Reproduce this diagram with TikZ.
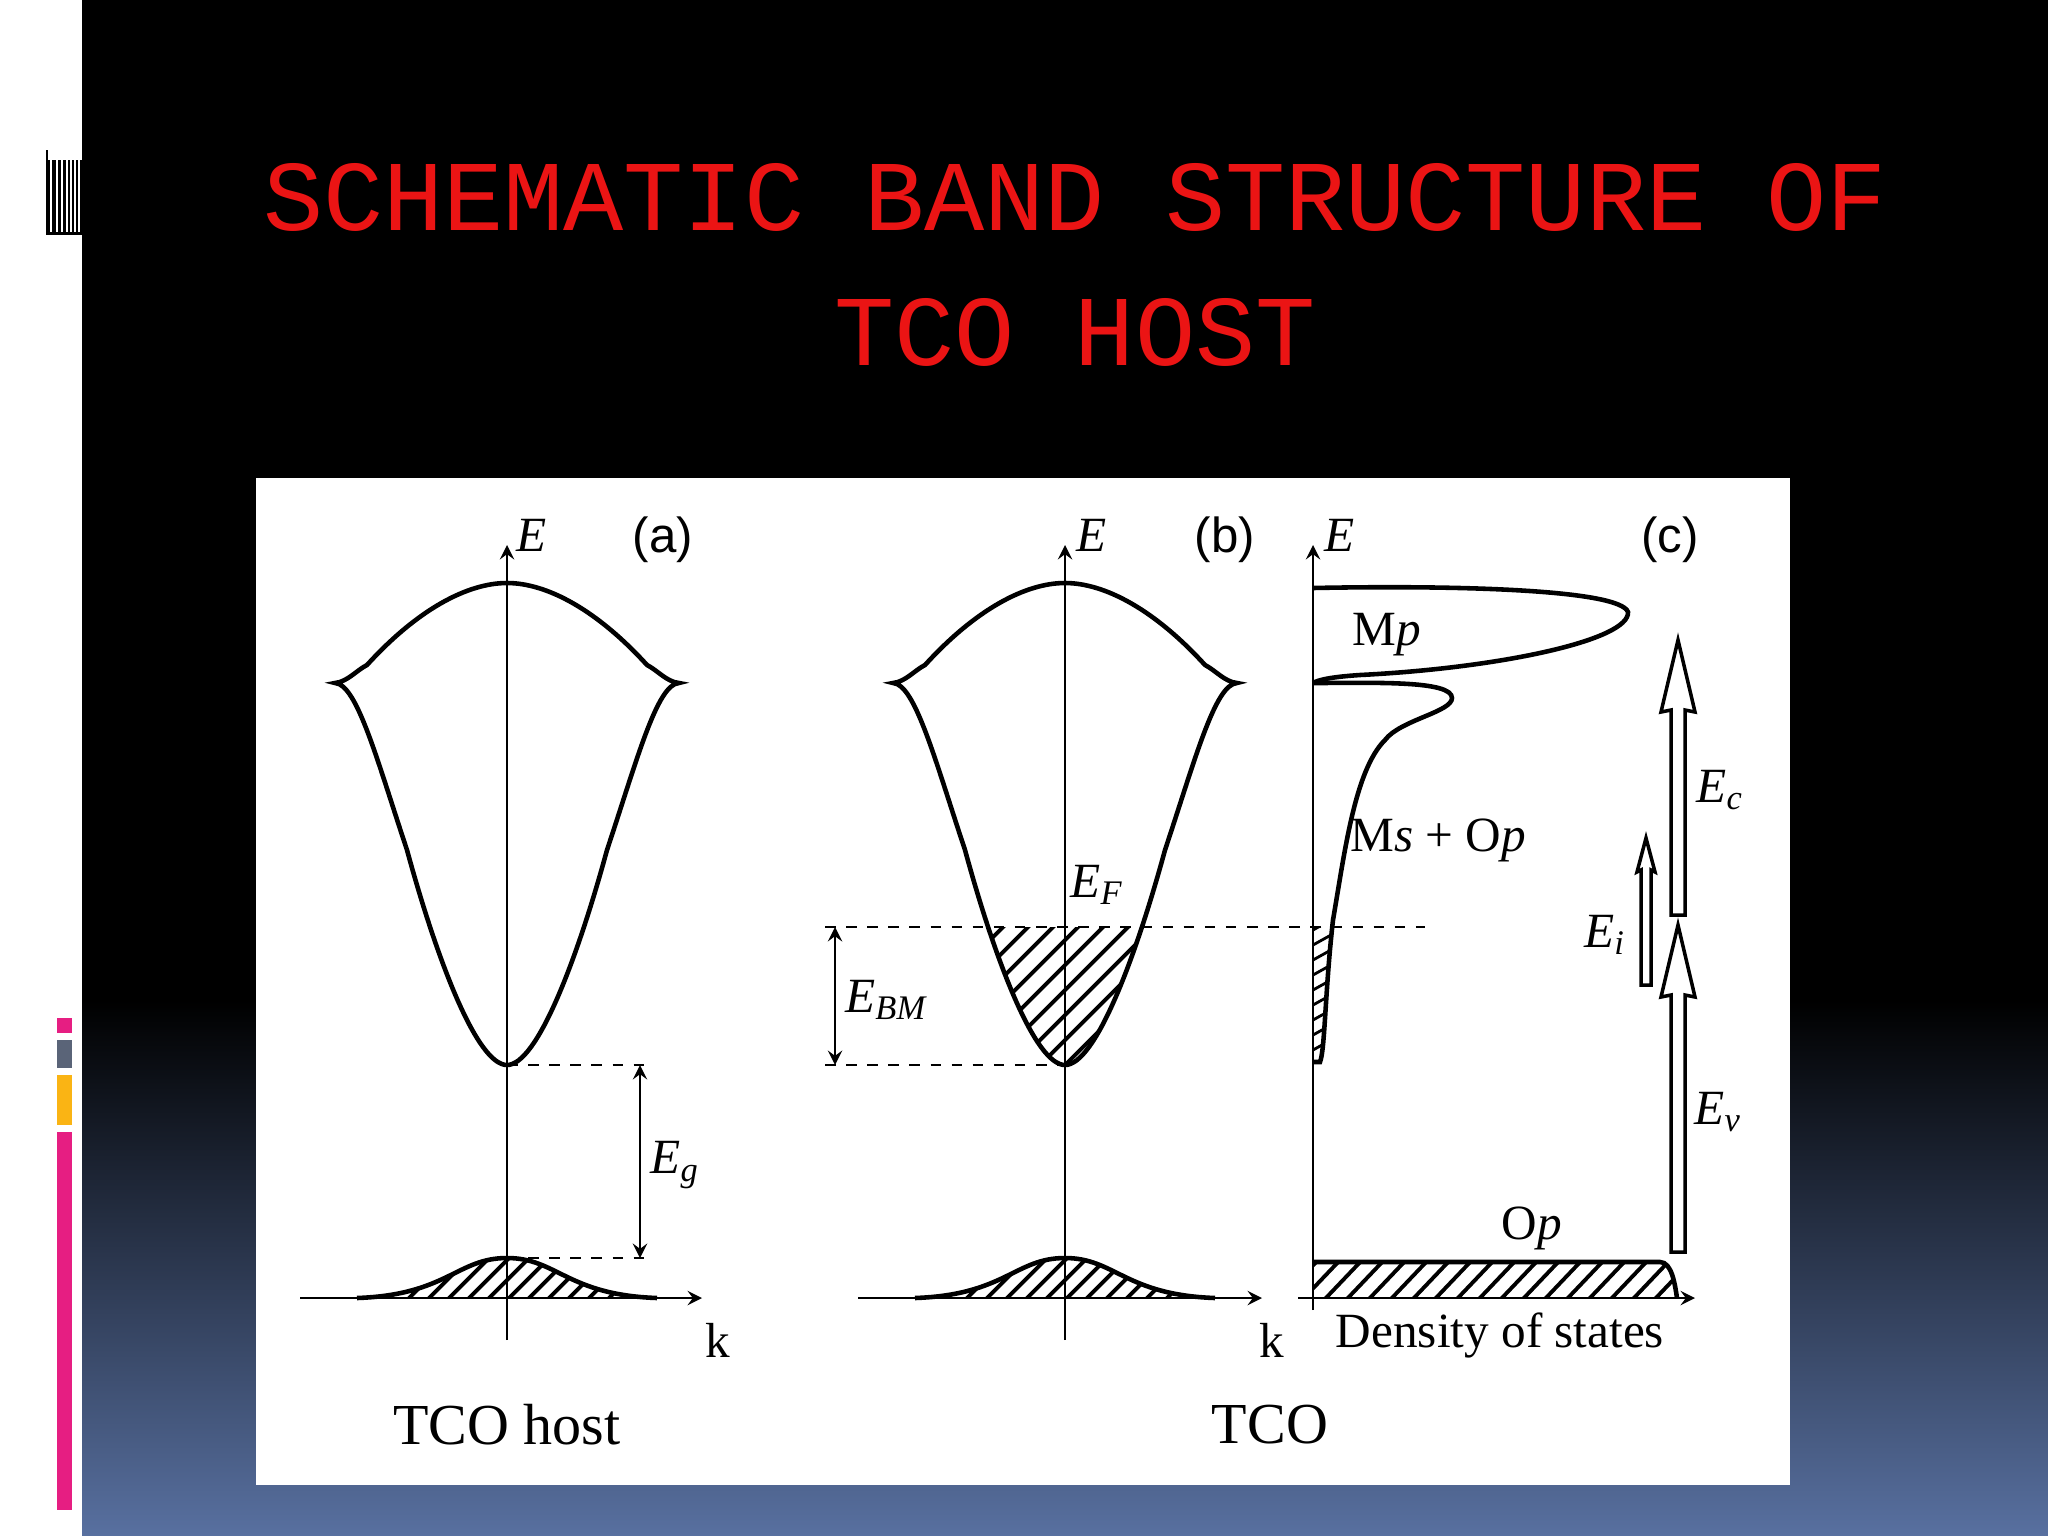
\documentclass[tikz,border=0pt]{standalone}
\usepackage{fontspec}
\setmainfont{Liberation Serif}
\newfontfamily\monof{Liberation Mono}
\newfontfamily\sansf{Liberation Sans}
\definecolor{titred}{RGB}{235,20,20}
\definecolor{slbot}{RGB}{88,112,160}
\definecolor{dpink}{RGB}{230,30,130}
\definecolor{dgray}{RGB}{90,100,120}
\definecolor{dyel}{RGB}{250,180,20}
\newcommand{\symE}[1]{\textit{E}\textsubscript{\textit{#1}}}
\tikzset{
  lbl/.style={font=\fontsize{14}{16}\selectfont, inner sep=1pt},
  axis/.style={line width=0.8pt,-stealth},
  band/.style={line width=1.3pt},
  dsh/.style={dashed, line width=0.7pt},
  hollow/.style={draw=black, fill=white, line width=1pt},
  hatch/.style={line width=1.1pt}
}
\begin{document}
\begin{tikzpicture}[x=0.01cm,y=-0.01cm]
\useasboundingbox (0,0) rectangle (2048,1536);
\fill[white] (0,0) rectangle (2048,1536);
\fill[black] (82,0) rectangle (2048,1000);
\shade[top color=black, bottom color=slbot] (82,1000) rectangle (2048,1536);
% left decorations
\fill[dpink] (57,1018) rectangle (72,1033);
\fill[dgray] (57,1040) rectangle (72,1068);
\fill[dyel] (57,1075) rectangle (72,1125);
\fill[dpink] (57,1132) rectangle (72,1510);
\fill[black] (46,150) rectangle (82,235);
\foreach \xx in {50,56,61,66,70,74,78} \fill[white] (\xx,160) rectangle (\xx+2,232);
\fill[white] (48,150) rectangle (82,160);
% title
\node[text=titred, font=\monof\fontsize{28.5}{31}\selectfont] (t1) at (1075,197) {SCHEMATIC BAND STRUCTURE OF};
\node[text=titred, font=\monof\fontsize{28.5}{31}\selectfont] (t2) at (1075,332) {TCO HOST};
% figure panel
\fill[white] (256,478) rectangle (1790,1485);

% ---------- panel (a)
\def\xa{507}
\draw[axis] (\xa,1340) -- (\xa,545);
\draw[axis] (300,1298) -- (702,1298);
\draw[band] (\xa-172,683) .. controls (\xa-150,684) and (\xa-130,760) .. (\xa-100,850)
  .. controls (\xa-70,960) and (\xa-30,1065) .. (\xa,1065)
  .. controls (\xa+30,1065) and (\xa+70,960) .. (\xa+100,850)
  .. controls (\xa+130,760) and (\xa+150,684) .. (\xa+172,683)
  .. controls (\xa+160,682) and (\xa+150,670) .. (\xa+140,665)
  .. controls (\xa+90,610) and (\xa+40,583) .. (\xa,583)
  .. controls (\xa-40,583) and (\xa-90,610) .. (\xa-140,665)
  .. controls (\xa-150,670) and (\xa-160,682) .. cycle;
\begin{scope}
\clip (\xa-150,1298) .. controls (\xa-60,1295) and (\xa-50,1258) .. (\xa,1258) .. controls (\xa+50,1258) and (\xa+60,1295) .. (\xa+150,1298) -- cycle;
\foreach \i in {-200,-180,...,200} \draw[hatch] (\xa+\i-20,1300) -- (\xa+\i+30,1250);
\end{scope}
\draw[band] (\xa-150,1298) .. controls (\xa-60,1295) and (\xa-50,1258) .. (\xa,1258) .. controls (\xa+50,1258) and (\xa+60,1295) .. (\xa+150,1298);
\coordinate (ag1) at (\xa,1065); \coordinate (ag2) at (650,1065);
\coordinate (av1) at (\xa,1258); \coordinate (av2) at (650,1258);
\draw[dsh] (ag1) -- (ag2); \draw[dsh] (av1) -- (av2);
\coordinate (eg1) at (640,1065); \coordinate (eg2) at (640,1258);
\draw[stealth-stealth, line width=0.8pt] (eg1) -- (eg2);
\node[lbl] (Eg) at (675,1165) {\symE{g}};
\node[lbl] (Ea) at (532,535) {\textit{E}};
\node[lbl, font=\sansf\fontsize{14}{16}\selectfont] (la) at (663,540) {(a)};
\node[lbl] (ka) at (718,1340) {k};
\node[lbl, font=\fontsize{16.5}{19}\selectfont] (host) at (507,1425) {TCO host};

% ---------- panel (b)
\def\xb{1065}
\draw[axis] (\xb,1340) -- (\xb,545);
\draw[axis] (858,1298) -- (1262,1298);
\begin{scope}
\clip (825,927) rectangle (1300,1070);
\clip (\xb-172,683) .. controls (\xb-150,684) and (\xb-130,760) .. (\xb-100,850)
  .. controls (\xb-70,960) and (\xb-30,1065) .. (\xb,1065)
  .. controls (\xb+30,1065) and (\xb+70,960) .. (\xb+100,850)
  .. controls (\xb+130,760) and (\xb+150,684) .. (\xb+172,683) -- cycle;
\foreach \i in {-260,-235,...,260} \draw[hatch] (\xb+\i-70,1070) -- (\xb+\i+80,920);
\end{scope}
\draw[band] (\xb-172,683) .. controls (\xb-150,684) and (\xb-130,760) .. (\xb-100,850)
  .. controls (\xb-70,960) and (\xb-30,1065) .. (\xb,1065)
  .. controls (\xb+30,1065) and (\xb+70,960) .. (\xb+100,850)
  .. controls (\xb+130,760) and (\xb+150,684) .. (\xb+172,683)
  .. controls (\xb+160,682) and (\xb+150,670) .. (\xb+140,665)
  .. controls (\xb+90,610) and (\xb+40,583) .. (\xb,583)
  .. controls (\xb-40,583) and (\xb-90,610) .. (\xb-140,665)
  .. controls (\xb-150,670) and (\xb-160,682) .. cycle;
\begin{scope}
\clip (\xb-150,1298) .. controls (\xb-60,1295) and (\xb-50,1258) .. (\xb,1258) .. controls (\xb+50,1258) and (\xb+60,1295) .. (\xb+150,1298) -- cycle;
\foreach \i in {-200,-180,...,200} \draw[hatch] (\xb+\i-20,1300) -- (\xb+\i+30,1250);
\end{scope}
\draw[band] (\xb-150,1298) .. controls (\xb-60,1295) and (\xb-50,1258) .. (\xb,1258) .. controls (\xb+50,1258) and (\xb+60,1295) .. (\xb+150,1298);
\coordinate (f1) at (825,927); \coordinate (f2) at (1425,927);
\draw[dsh] (f1) -- (f2);
\coordinate (m1) at (825,1065); \coordinate (m2) at (\xb,1065);
\draw[dsh] (m1) -- (m2);
\coordinate (bm1) at (835,927); \coordinate (bm2) at (835,1065);
\draw[stealth-stealth, line width=0.8pt] (bm1) -- (bm2);
\node[lbl] (EBM) at (887,1000) {\symE{BM}};
\node[lbl] (EF) at (1097,885) {\symE{F}};
\node[lbl] (Eb) at (1092,535) {\textit{E}};
\node[lbl, font=\sansf\fontsize{14}{16}\selectfont] (lb) at (1225,540) {(b)};
\node[lbl] (kb) at (1272,1340) {k};
\node[lbl, font=\fontsize{16.5}{19}\selectfont] (tco) at (1270,1425) {TCO};

% ---------- panel (c)
\def\xc{1313}
\draw[axis] (\xc,1310) -- (\xc,545);
\draw[axis] (1298,1298) -- (1695,1298);
\draw[band] (\xc,588) .. controls (\xc+150,585) and (1620,590) .. (1628,612)
  .. controls (1630,640) and (1500,668) .. (1360,675)
  .. controls (1330,677) and (\xc+5,680) .. (\xc,683);
\draw[band] (\xc,683) .. controls (\xc+60,683) and (1452,680) .. (1452,698)
  .. controls (1452,712) and (1400,720) .. (1385,740)
  .. controls (1355,770) and (1345,850) .. (1333,920)
  .. controls (1325,990) and (1325,1050) .. (1320,1062) -- (\xc,1062);
\begin{scope}
\clip (\xc,927) -- (1334,927) .. controls (1325,990) and (1325,1050) .. (1320,1062) -- (\xc,1062) -- cycle;
\foreach \i in {900,915,...,1080} \draw[line width=0.8pt] (\xc,\i+15) -- (1340,\i);
\end{scope}
\begin{scope}
\clip (\xc,1262) -- (1660,1262) .. controls (1672,1262) and (1675,1285) .. (1677,1298) -- (\xc,1298) -- cycle;
\foreach \i in {1300,1322,...,1700} \draw[hatch] (\i-20,1300) -- (\i+20,1258);
\end{scope}
\draw[band] (\xc,1262) -- (1660,1262) .. controls (1672,1262) and (1675,1285) .. (1677,1298);
\draw[hollow] (1671,915) -- (1671,710) -- (1661,712) -- (1678,640) -- (1695,712) -- (1685,710) -- (1685,915) -- cycle;
\draw[hollow] (1641,985) -- (1641,870) -- (1637,872) -- (1646,838) -- (1655,872) -- (1651,870) -- (1651,985) -- cycle;
\draw[hollow] (1671,1252) -- (1671,995) -- (1661,997) -- (1678,925) -- (1695,997) -- (1685,995) -- (1685,1252) -- cycle;
\node[lbl] (Ec) at (1720,790) {\symE{c}};
\node[lbl] (Ei) at (1605,935) {\symE{i}};
\node[lbl] (Ev) at (1718,1112) {\symE{v}};
\node[lbl] (Mp) at (1387,635) {M\textit{p}};
\node[lbl] (MsOp) at (1438,840) {M\textit{s} + O\textit{p}};
\node[lbl] (Op) at (1532,1228) {O\textit{p}};
\node[lbl] (dos) at (1500,1335) {Density of states};
\node[lbl] (Ec2) at (1340,535) {\textit{E}};
\node[lbl, font=\sansf\fontsize{14}{16}\selectfont] (lc) at (1670,540) {(c)};
\end{tikzpicture}
\end{document}
